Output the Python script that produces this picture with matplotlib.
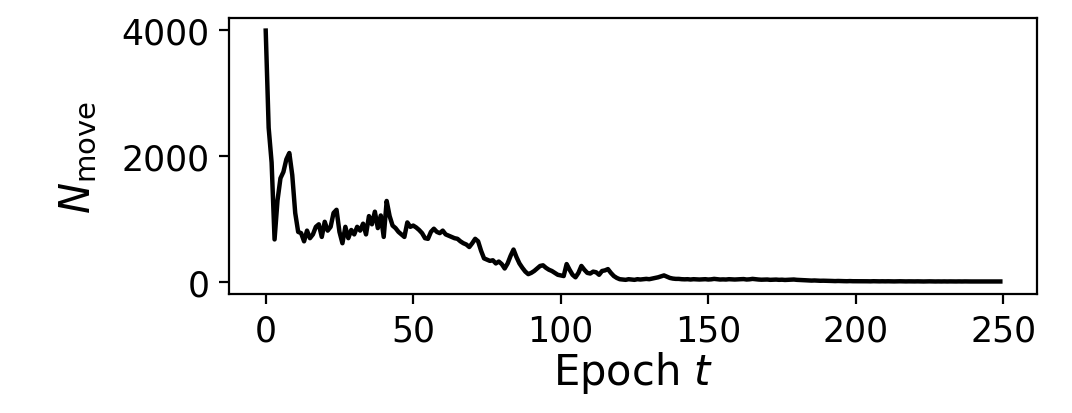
import matplotlib

matplotlib.use("Agg")
import matplotlib.pyplot as plt  # noqa: E402
import numpy as np  # noqa: E402

# N_move per epoch (epochs 0..249)
n_move = [
    3990, 2450, 1900, 680, 1300, 1650, 1750, 1950, 2050, 1700,
    1100, 800, 780, 650, 820, 700, 760, 880, 920, 720,
    960, 820, 880, 1100, 1150, 800, 620, 880, 700, 830,
    760, 880, 820, 930, 760, 1050, 920, 1120, 860, 1060,
    720, 1290, 1050, 900, 860, 800, 760, 720, 950, 880,
    900, 870, 830, 780, 700, 690, 800, 850, 800, 780,
    820, 760, 740, 720, 700, 690, 650, 620, 600, 560,
    620, 690, 650, 500, 380, 360, 340, 350, 300, 330,
    290, 220, 300, 420, 520, 400, 300, 230, 170, 130,
    150, 180, 220, 260, 270, 230, 200, 180, 150, 120,
    110, 100, 290, 200, 120, 80, 150, 260, 200, 150,
    140, 170, 160, 120, 180, 190, 210, 150, 100, 70,
    50, 45, 40, 50, 45, 40, 50, 45, 50, 55,
    50, 60, 70, 80, 95, 110, 90, 70, 60, 55,
    55, 50, 48, 50, 45, 50, 48, 45, 47, 50,
    45, 48, 55, 50, 45, 47, 45, 50, 48, 45,
    48, 50, 52, 45, 48, 55, 50, 45, 42, 44,
    45, 40, 42, 44, 40, 42, 38, 40, 42, 45,
    40, 38, 35, 33, 30, 28, 30, 27, 25, 26,
    25, 24, 22, 20, 22, 20, 19, 18, 20, 18,
    18, 17, 18, 19, 17, 16, 18, 17, 16, 17,
    16, 17, 16, 15, 16, 17, 16, 15, 16, 15,
    15, 16, 15, 14, 15, 16, 15, 14, 15, 14,
    15, 14, 15, 14, 14, 15, 14, 15, 14, 14,
    14, 15, 14, 14, 15, 14, 14, 15, 14, 14,
]
epochs = np.arange(len(n_move))
x_ticks = [0, 50, 100, 150, 200, 250]
y_ticks = [0, 2000, 4000]

fig = plt.figure(figsize=(5.36, 2.07), dpi=200)
ax = fig.add_axes([0.2136, 0.2874, 0.7538, 0.6666])
ax.plot(epochs, n_move, color="black", lw=1.6)
ax.set_xticks(x_ticks)
ax.set_yticks(y_ticks)
ax.tick_params(labelsize=12.5)
ax.set_xlabel(r"Epoch $t$", fontsize=15, labelpad=0.5)
ax.set_ylabel(r"$N_{\mathrm{move}}$", fontsize=15, labelpad=8)

fig.savefig("out.png", dpi=200)
